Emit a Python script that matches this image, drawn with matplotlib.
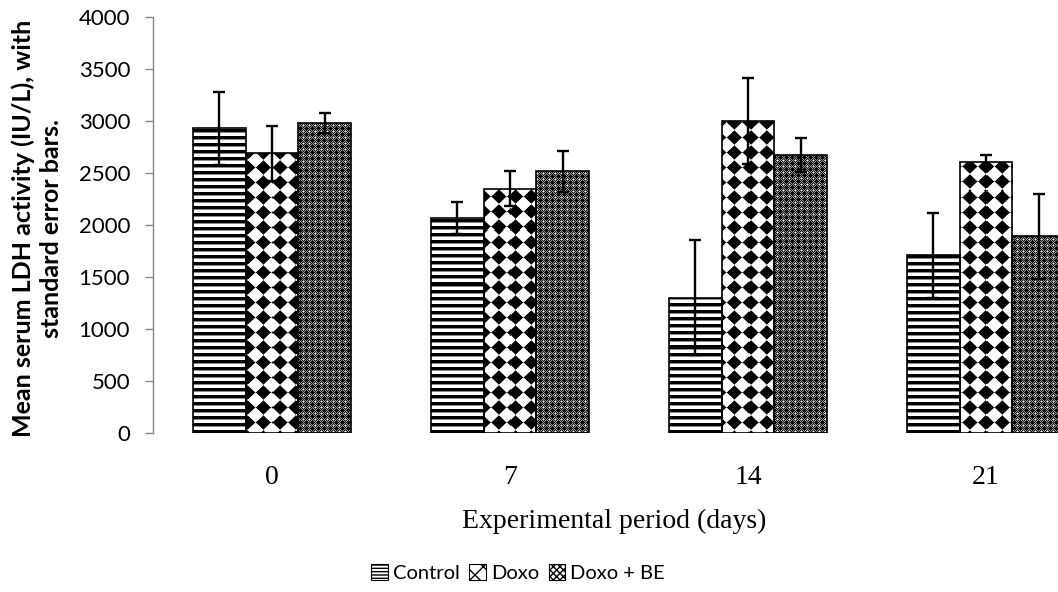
import numpy as np
import matplotlib
matplotlib.use("Agg")
import matplotlib.pyplot as plt
from matplotlib.patches import Patch

# ---------------- data ----------------
days = ["0", "7", "14", "21"]
series = ["Control", "Doxo", "Doxo + BE"]
control = [2930, 2070, 1300, 1710]
control_err = [350, 155, 553, 410]
doxo = [2690, 2350, 3000, 2610]
doxo_err = [265, 165, 413, 63]
doxo_be = [2980, 2515, 2675, 1890]
doxo_be_err = [100, 200, 165, 405]
yticks = [0, 500, 1000, 1500, 2000, 2500, 3000, 3500, 4000]

W, H, DPI = 1058, 592, 100
plt.rcParams["hatch.linewidth"] = 1.0
fig = plt.figure(figsize=(W / DPI, H / DPI), dpi=DPI)
ax_l, ax_b, ax_w, ax_h = 153 / W, 159 / H, 952 / W, 416 / H
ax = fig.add_axes([ax_l, ax_b, ax_w, ax_h])
ax.set_xlim(-0.5, len(days) - 0.5)
ax.set_ylim(0, 4000)

px_w, px_h = 952, 416
yy, xx = np.mgrid[0:px_h, 0:px_w].astype(float)

# texture: horizontal stripes
r = np.mod(yy, 7)
tex_stripes = np.where(r < 3, 0.0, np.where(r < 4, 0.55, 1.0))

# texture: black diamonds on white
p_x, p_y = 15.7, 15.0
u = xx / p_x; v = yy / p_y
d = np.abs(u - np.round(u)) + np.abs(v - np.round(v))
tex_diamond = np.clip((d - 0.44) / 0.08, 0, 1)

# texture: fine dark check
q = 6.0
u2 = (xx + 3) / q; v2 = (yy + 3) / q
d2 = np.abs(u2 - np.round(u2)) + np.abs(v2 - np.round(v2))
checker = np.where(np.mod(xx + yy, 2) == 0, 0.05, 0.6)
tex_fine = np.where(d2 < 0.3, 0.0, np.where(d2 > 0.9, 1.0, checker))

textures = [tex_stripes, tex_diamond, tex_fine]
values = [control, doxo, doxo_be]
errors = [control_err, doxo_err, doxo_be_err]

x = np.arange(len(days))
w = 0.222
offsets = [-w, 0, w]
extent = (ax.get_xlim()[0], ax.get_xlim()[1], 0, 4000)

for vals, errs, off, tex in zip(values, errors, offsets, textures):
    bars = ax.bar(x + off, vals, width=w, color="white", edgecolor="none", zorder=1)
    for b in bars:
        im = ax.imshow(tex, cmap="gray", vmin=0, vmax=1, extent=extent,
                       aspect="auto", interpolation="nearest", origin="upper", zorder=1.5)
        im.set_clip_path(b)
    ax.bar(x + off, vals, width=w, fill=False, edgecolor="black", linewidth=1.2, zorder=2)
    ax.errorbar(x + off, vals, yerr=errs, fmt="none", ecolor="black",
                elinewidth=1.7, capsize=4.5, capthick=1.7, zorder=3)

ax.set_xlim(-0.5, len(days) - 0.5)
ax.set_ylim(0, 4000)

for s in ["top", "right", "bottom"]:
    ax.spines[s].set_visible(False)
ax.spines["left"].set_color("#868686")
ax.spines["left"].set_linewidth(1.0)

ax.set_yticks(yticks)
ax.set_yticklabels([str(t) for t in yticks], fontfamily="Lato", fontsize=16)
ax.tick_params(axis="y", direction="out", length=5.5, width=1, color="#868686", pad=11)
ax.set_xticks(x)
ax.set_xticklabels(days, fontfamily="Liberation Serif", fontsize=20)
ax.tick_params(axis="x", length=0, pad=23)

fig.text(614 / W, 1 - 521 / H, "Experimental period (days)", ha="center", va="center",
         fontfamily="Liberation Serif", fontsize=20)

fig.text(37 / W, 1 - 228 / H, "Mean serum LDH activity (IU/L), with\nstandard error bars.",
         rotation=90, ha="center", va="center", multialignment="center",
         fontfamily="Lato", fontweight="bold", fontsize=18, linespacing=1.25)

handles = [
    Patch(facecolor="white", edgecolor="black", hatch="-----", linewidth=0.8),
    Patch(facecolor="white", edgecolor="black", hatch="xx", linewidth=0.8),
    Patch(facecolor="white", edgecolor="black", hatch="xxxxx", linewidth=0.8),
]
fig.legend(handles, series, loc="center", bbox_to_anchor=(518 / W, 1 - 573 / H), ncol=3,
           frameon=False, prop={"family": "Lato", "size": 14.5}, handlelength=0.8,
           handleheight=0.8, handletextpad=0.25, columnspacing=0.5)

fig.savefig("out.png", dpi=DPI)
